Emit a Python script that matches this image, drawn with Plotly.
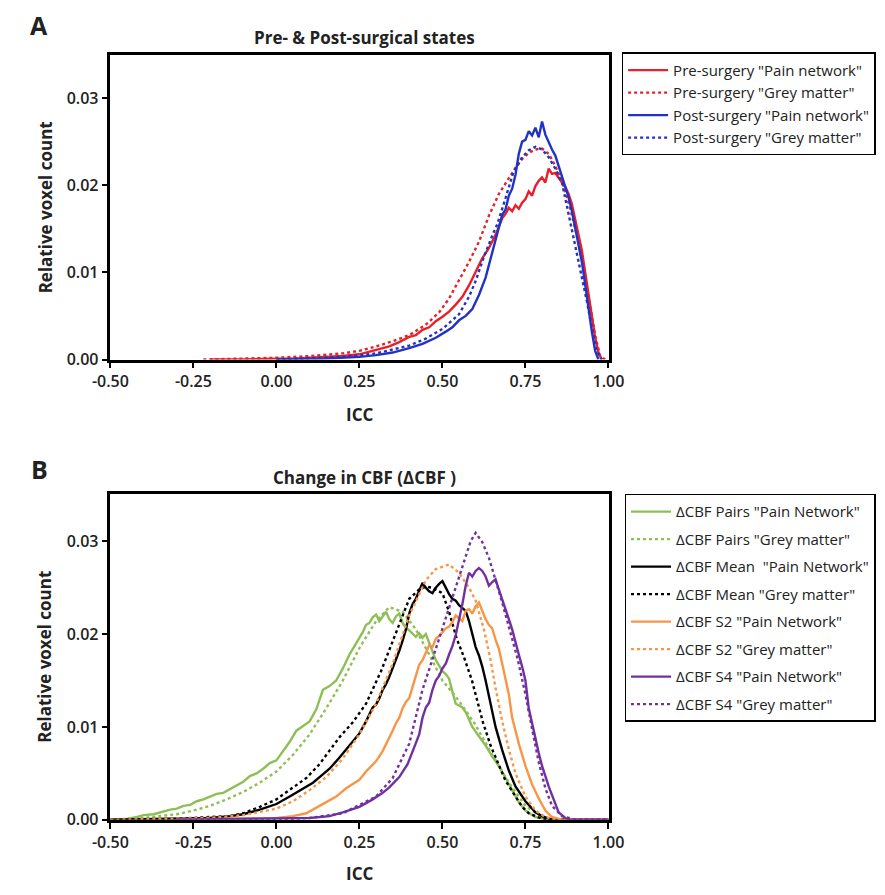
import plotly.graph_objects as go

# ---------------- DATA (ICC bin, relative voxel count in units of 1e-4) ----------------
UNIT = 1e-4

A_PRE_PAIN = [(-0.20, 0), (-0.10, 0), (0.00, 1), (0.05, 1), (0.10, 2), (0.15, 3), (0.20, 4), (0.25, 6),
              (0.28, 9), (0.31, 12), (0.34, 15), (0.37, 20), (0.40, 26), (0.42, 28), (0.44, 34), (0.46, 37),
              (0.48, 44), (0.50, 49), (0.52, 55), (0.54, 63), (0.56, 72), (0.58, 85), (0.60, 101), (0.62, 116),
              (0.64, 128), (0.66, 143), (0.68, 162), (0.69, 167), (0.70, 174), (0.71, 170), (0.72, 177),
              (0.73, 173), (0.74, 180), (0.75, 184), (0.76, 193), (0.77, 188), (0.78, 199), (0.79, 205),
              (0.80, 209), (0.81, 203), (0.82, 219), (0.83, 213), (0.84, 214), (0.85, 208), (0.86, 203),
              (0.87, 198), (0.88, 190), (0.89, 178), (0.90, 160), (0.91, 143), (0.92, 125), (0.93, 100),
              (0.94, 73), (0.95, 48), (0.96, 25), (0.97, 8), (0.98, 0)]
A_PRE_GREY = [(-0.22, 0), (-0.10, 1), (0.00, 2), (0.10, 4), (0.20, 7), (0.25, 10), (0.30, 15), (0.35, 21),
              (0.40, 28), (0.45, 40), (0.49, 54), (0.52, 70), (0.55, 91), (0.58, 112), (0.61, 135), (0.64, 165),
              (0.67, 190), (0.70, 208), (0.72, 220), (0.74, 230), (0.76, 237), (0.78, 241), (0.80, 242),
              (0.82, 236), (0.84, 222), (0.86, 204), (0.88, 180), (0.90, 150), (0.92, 115), (0.94, 72),
              (0.96, 28), (0.975, 4), (0.99, 0)]
A_POST_PAIN = [(0.00, 0), (0.15, 1), (0.25, 3), (0.30, 5), (0.35, 8), (0.40, 13), (0.44, 18), (0.48, 25),
               (0.51, 32), (0.53, 37), (0.55, 45), (0.57, 50), (0.59, 58), (0.61, 74), (0.63, 94), (0.65, 122),
               (0.66, 135), (0.67, 150), (0.68, 166), (0.69, 172), (0.70, 188), (0.71, 196), (0.72, 212),
               (0.73, 236), (0.74, 250), (0.75, 252), (0.76, 262), (0.77, 257), (0.78, 266), (0.79, 255),
               (0.80, 273), (0.81, 258), (0.82, 249), (0.83, 241), (0.84, 234), (0.85, 222), (0.86, 212),
               (0.87, 198), (0.88, 186), (0.89, 170), (0.90, 152), (0.91, 133), (0.92, 112), (0.93, 86),
               (0.94, 58), (0.95, 32), (0.96, 10), (0.97, 0)]
A_POST_GREY = [(0.00, 0), (0.20, 3), (0.30, 7), (0.40, 16), (0.45, 24), (0.50, 35), (0.55, 52), (0.58, 72),
               (0.60, 90), (0.625, 118), (0.65, 142), (0.665, 155), (0.69, 185), (0.713, 214), (0.74, 232),
               (0.76, 240), (0.78, 244), (0.80, 241), (0.82, 232), (0.84, 219), (0.86, 203), (0.887, 155),
               (0.916, 103), (0.936, 65), (0.95, 36), (0.965, 10), (0.98, 0)]

B_PAIRS_PAIN = [(-0.50, 0), (-0.45, 1), (-0.42, 3), (-0.40, 5), (-0.37, 6), (-0.35, 8), (-0.32, 11), (-0.30, 12),
                (-0.28, 15), (-0.26, 16), (-0.24, 20), (-0.22, 22), (-0.20, 25), (-0.18, 28), (-0.16, 29),
                (-0.14, 33), (-0.12, 37), (-0.10, 41), (-0.08, 47), (-0.06, 50), (-0.04, 55), (-0.02, 61),
                (0.00, 64), (0.02, 74), (0.04, 84), (0.06, 96), (0.08, 101), (0.10, 106), (0.12, 119),
                (0.14, 140), (0.16, 144), (0.18, 150), (0.20, 163), (0.22, 178), (0.24, 190), (0.26, 202),
                (0.27, 210), (0.28, 212), (0.29, 218), (0.30, 221), (0.31, 214), (0.32, 219), (0.33, 224),
                (0.34, 216), (0.35, 212), (0.36, 219), (0.37, 222), (0.38, 212), (0.39, 207), (0.40, 204),
                (0.41, 200), (0.42, 197), (0.43, 201), (0.44, 196), (0.45, 200), (0.46, 190), (0.47, 182),
                (0.48, 172), (0.49, 166), (0.50, 160), (0.51, 157), (0.52, 152), (0.53, 138), (0.54, 125),
                (0.55, 123), (0.56, 121), (0.57, 116), (0.59, 100), (0.61, 90), (0.63, 80), (0.65, 68),
                (0.67, 58), (0.69, 45), (0.71, 32), (0.73, 19), (0.75, 10), (0.78, 3), (0.82, 0), (1.00, 0)]
B_PAIRS_GREY = [(-0.50, 0), (-0.40, 2), (-0.30, 6), (-0.25, 10), (-0.20, 15), (-0.15, 22), (-0.10, 30),
                (-0.05, 40), (0.00, 52), (0.05, 70), (0.10, 92), (0.15, 120), (0.20, 150), (0.25, 185),
                (0.30, 214), (0.34, 229), (0.38, 224), (0.42, 205), (0.46, 178), (0.50, 150), (0.55, 128),
                (0.60, 102), (0.65, 70), (0.70, 40), (0.75, 15), (0.80, 3), (0.85, 0), (1.00, 0)]
B_MEAN_PAIN = [(-0.50, 0), (-0.30, 1), (-0.20, 2), (-0.14, 4), (-0.10, 6), (-0.05, 11), (0.00, 17), (0.04, 25),
               (0.08, 34), (0.11, 40), (0.13, 46), (0.16, 55), (0.19, 67), (0.22, 80), (0.25, 93), (0.27, 106),
               (0.29, 121), (0.30, 124), (0.31, 131), (0.32, 140), (0.33, 146), (0.34, 154), (0.35, 163),
               (0.36, 172), (0.37, 182), (0.38, 193), (0.39, 205), (0.40, 222), (0.41, 232), (0.42, 238),
               (0.43, 247), (0.44, 255), (0.45, 250), (0.46, 246), (0.47, 244), (0.48, 250), (0.49, 254),
               (0.50, 257), (0.51, 250), (0.52, 243), (0.53, 238), (0.54, 236), (0.55, 231), (0.56, 228),
               (0.57, 225), (0.58, 214), (0.59, 199), (0.60, 186), (0.61, 177), (0.62, 165), (0.63, 150),
               (0.64, 134), (0.65, 118), (0.66, 100), (0.68, 75), (0.70, 53), (0.72, 36), (0.75, 20),
               (0.78, 8), (0.80, 4), (0.83, 0), (1.00, 0)]
B_MEAN_GREY = [(-0.50, 0), (-0.30, 1), (-0.20, 3), (-0.14, 4), (-0.10, 7), (-0.05, 14), (0.00, 22), (0.04, 32),
               (0.09, 45), (0.13, 60), (0.19, 89), (0.23, 105), (0.27, 125), (0.315, 160), (0.36, 202),
               (0.40, 238), (0.43, 248), (0.45, 251), (0.47, 250), (0.50, 244), (0.52, 224), (0.543, 195),
               (0.565, 175), (0.589, 150), (0.605, 128), (0.622, 105), (0.645, 80), (0.669, 60), (0.69, 42),
               (0.715, 28), (0.74, 14), (0.76, 7), (0.80, 1), (0.83, 0), (1.00, 0)]
B_S2_PAIN = [(-0.30, 0), (-0.10, 1), (0.00, 2), (0.05, 4), (0.09, 7), (0.13, 15), (0.18, 25), (0.21, 34),
             (0.25, 43), (0.27, 52), (0.30, 63), (0.32, 74), (0.34, 88), (0.35, 96), (0.36, 104), (0.37, 110),
             (0.38, 120), (0.39, 127), (0.40, 131), (0.41, 142), (0.42, 155), (0.43, 167), (0.44, 172),
             (0.45, 180), (0.46, 188), (0.47, 186), (0.48, 195), (0.49, 198), (0.50, 202), (0.51, 206),
             (0.52, 208), (0.53, 213), (0.54, 220), (0.55, 217), (0.56, 214), (0.57, 225), (0.58, 227),
             (0.59, 222), (0.60, 230), (0.61, 234), (0.62, 224), (0.63, 216), (0.64, 210), (0.65, 206),
             (0.66, 194), (0.67, 184), (0.68, 168), (0.69, 150), (0.70, 135), (0.71, 110), (0.72, 95),
             (0.73, 82), (0.75, 58), (0.77, 38), (0.79, 23), (0.81, 10), (0.83, 3), (0.86, 0), (1.00, 0)]
B_S2_GREY = [(-0.50, 0), (-0.30, 1), (-0.20, 2), (-0.10, 5), (0.00, 12), (0.05, 20), (0.10, 32), (0.15, 46),
             (0.20, 66), (0.25, 92), (0.30, 125), (0.35, 168), (0.40, 220), (0.45, 258), (0.48, 270),
             (0.52, 275), (0.55, 266), (0.58, 250), (0.60, 236), (0.625, 205), (0.645, 172), (0.66, 142),
             (0.68, 106), (0.70, 76), (0.72, 50), (0.75, 25), (0.78, 10), (0.81, 3), (0.84, 0), (1.00, 0)]
B_S4_PAIN = [(-0.30, 0), (0.00, 1), (0.10, 2), (0.16, 4), (0.20, 8), (0.25, 14), (0.29, 22), (0.32, 29),
             (0.34, 35), (0.37, 46), (0.395, 60), (0.415, 78), (0.43, 92), (0.44, 110), (0.45, 121),
             (0.46, 126), (0.47, 140), (0.48, 150), (0.49, 155), (0.50, 163), (0.51, 168), (0.52, 178),
             (0.53, 187), (0.54, 199), (0.55, 214), (0.56, 232), (0.57, 252), (0.58, 266), (0.59, 262),
             (0.60, 268), (0.61, 271), (0.62, 268), (0.63, 262), (0.64, 252), (0.65, 256), (0.66, 259),
             (0.67, 248), (0.68, 238), (0.69, 226), (0.70, 216), (0.71, 205), (0.72, 190), (0.73, 178),
             (0.74, 165), (0.75, 150), (0.76, 120), (0.77, 102), (0.78, 88), (0.79, 72), (0.80, 58),
             (0.82, 36), (0.84, 16), (0.85, 8), (0.87, 2), (0.88, 0), (1.00, 0)]
B_S4_GREY = [(-0.30, 0), (0.00, 0), (0.10, 2), (0.20, 7), (0.30, 25), (0.35, 45), (0.40, 82), (0.44, 140),
             (0.49, 195), (0.53, 240), (0.566, 280), (0.585, 300), (0.60, 309), (0.62, 299), (0.64, 282),
             (0.68, 234), (0.726, 174), (0.75, 135), (0.77, 98), (0.79, 62), (0.81, 34), (0.83, 15),
             (0.86, 4), (0.90, 0), (1.00, 0)]

SERIES_A = [
    ('Pre-surgery "Pain network"', A_PRE_PAIN, "#e8202a", "solid"),
    ('Pre-surgery "Grey matter"', A_PRE_GREY, "#e8202a", "dot"),
    ('Post-surgery "Pain network"', A_POST_PAIN, "#2233c4", "solid"),
    ('Post-surgery "Grey matter"', A_POST_GREY, "#2233c4", "dot"),
]
SERIES_B = [
    ('ΔCBF Pairs "Pain Network"', B_PAIRS_PAIN, "#8dbf55", "solid"),
    ('ΔCBF Pairs "Grey matter"', B_PAIRS_GREY, "#8dbf55", "dot"),
    ('ΔCBF Mean  "Pain Network"', B_MEAN_PAIN, "#000000", "solid"),
    ('ΔCBF Mean "Grey matter"', B_MEAN_GREY, "#000000", "dot"),
    ('ΔCBF S2 "Pain Network"', B_S2_PAIN, "#f79646", "solid"),
    ('ΔCBF S2 "Grey matter"', B_S2_GREY, "#f79646", "dot"),
    ('ΔCBF S4 "Pain Network"', B_S4_PAIN, "#7030a0", "solid"),
    ('ΔCBF S4 "Grey matter"', B_S4_GREY, "#7030a0", "dot"),
]

X_TICKS = [-0.50, -0.25, 0.00, 0.25, 0.50, 0.75, 1.00]
X_TICK_TEXT = ["-0.50", "-0.25", "0.00", "0.25", "0.50", "0.75", "1.00"]
Y_TICKS = [0.00, 0.01, 0.02, 0.03]
Y_TICK_TEXT = ["0.00", "0.01", "0.02", "0.03"]

W, H = 885, 895
FONT = "Open Sans"

fig = go.Figure()

for name, pts, color, dash in SERIES_A:
    fig.add_trace(go.Scatter(
        x=[p[0] for p in pts], y=[p[1] * UNIT for p in pts], mode="lines", name=name,
        line=dict(color=color, width=2.4, dash=dash), xaxis="x", yaxis="y", legend="legend"))

for i, (name, pts, color, dash) in enumerate(SERIES_B):
    fig.add_trace(go.Scatter(
        x=[p[0] for p in pts], y=[p[1] * UNIT for p in pts], mode="lines", name=name,
        line=dict(color=color, width=2.4, dash=dash), xaxis="x2", yaxis="y2",
        legend="legend2", legendgroup=f"g{i}"))

def px_x(p):
    return p / W

def px_y(p):
    return 1 - p / H

axis_common = dict(
    showline=True, linecolor="black", linewidth=2.5, mirror=True,
    ticks="outside", ticklen=6, tickwidth=2, tickcolor="black",
    showgrid=False, zeroline=False,
    tickfont=dict(family=FONT, size=16, color="#222", weight=600),
)

xdom = [px_x(96), px_x(614)]
fig.update_layout(
    width=W, height=H, margin=dict(l=0, r=0, t=0, b=0),
    paper_bgcolor="white", plot_bgcolor="white",
    font=dict(family=FONT, color="#222"),
    xaxis=dict(domain=xdom, range=[-0.5, 1.002], tickvals=X_TICKS, ticktext=X_TICK_TEXT,
               anchor="y", **axis_common),
    yaxis=dict(domain=[px_y(364), px_y(56)], range=[0, 0.0349], tickvals=Y_TICKS, ticktext=Y_TICK_TEXT,
               anchor="x", **axis_common),
    xaxis2=dict(domain=xdom, range=[-0.5, 1.002], tickvals=X_TICKS, ticktext=X_TICK_TEXT,
                anchor="y2", **axis_common),
    yaxis2=dict(domain=[px_y(830), px_y(500)], range=[0, 0.0351], tickvals=Y_TICKS, ticktext=Y_TICK_TEXT,
                anchor="x2", **axis_common),
    legend=dict(x=px_x(627), y=px_y(53), xanchor="left", yanchor="top",
                bordercolor="black", borderwidth=1.5, bgcolor="white",
                font=dict(family=FONT, size=15, color="#222"), itemwidth=40, traceorder="normal"),
    legend2=dict(x=px_x(630), y=px_y(500), xanchor="left", yanchor="top",
                 bordercolor="black", borderwidth=1.5, bgcolor="white",
                 font=dict(family=FONT, size=15, color="#222"), itemwidth=40,
                 traceorder="grouped", tracegroupgap=5),
    showlegend=True,
)

ann = []
def label(text, x, y, size, bold=True, angle=0):
    ann.append(dict(text=f"<b>{text}</b>" if bold else text, x=px_x(x), y=px_y(y),
                    xref="paper", yref="paper", showarrow=False, textangle=angle,
                    xanchor="center", yanchor="middle",
                    font=dict(family=FONT, size=size, color="#222")))

label("A", 22, 25, 25)
label("B", 22, 475, 25)
label("Pre- &amp; Post-surgical states", 360, 38, 17)
label("Change in CBF (ΔCBF )", 360, 483, 17)
label("ICC", 355, 420, 17)
label("ICC", 355, 884, 17)
label("Relative voxel count", 28, 210, 17, angle=-90)
label("Relative voxel count", 28, 665, 17, angle=-90)
fig.update_layout(annotations=ann)

fig.write_html("out.html")
